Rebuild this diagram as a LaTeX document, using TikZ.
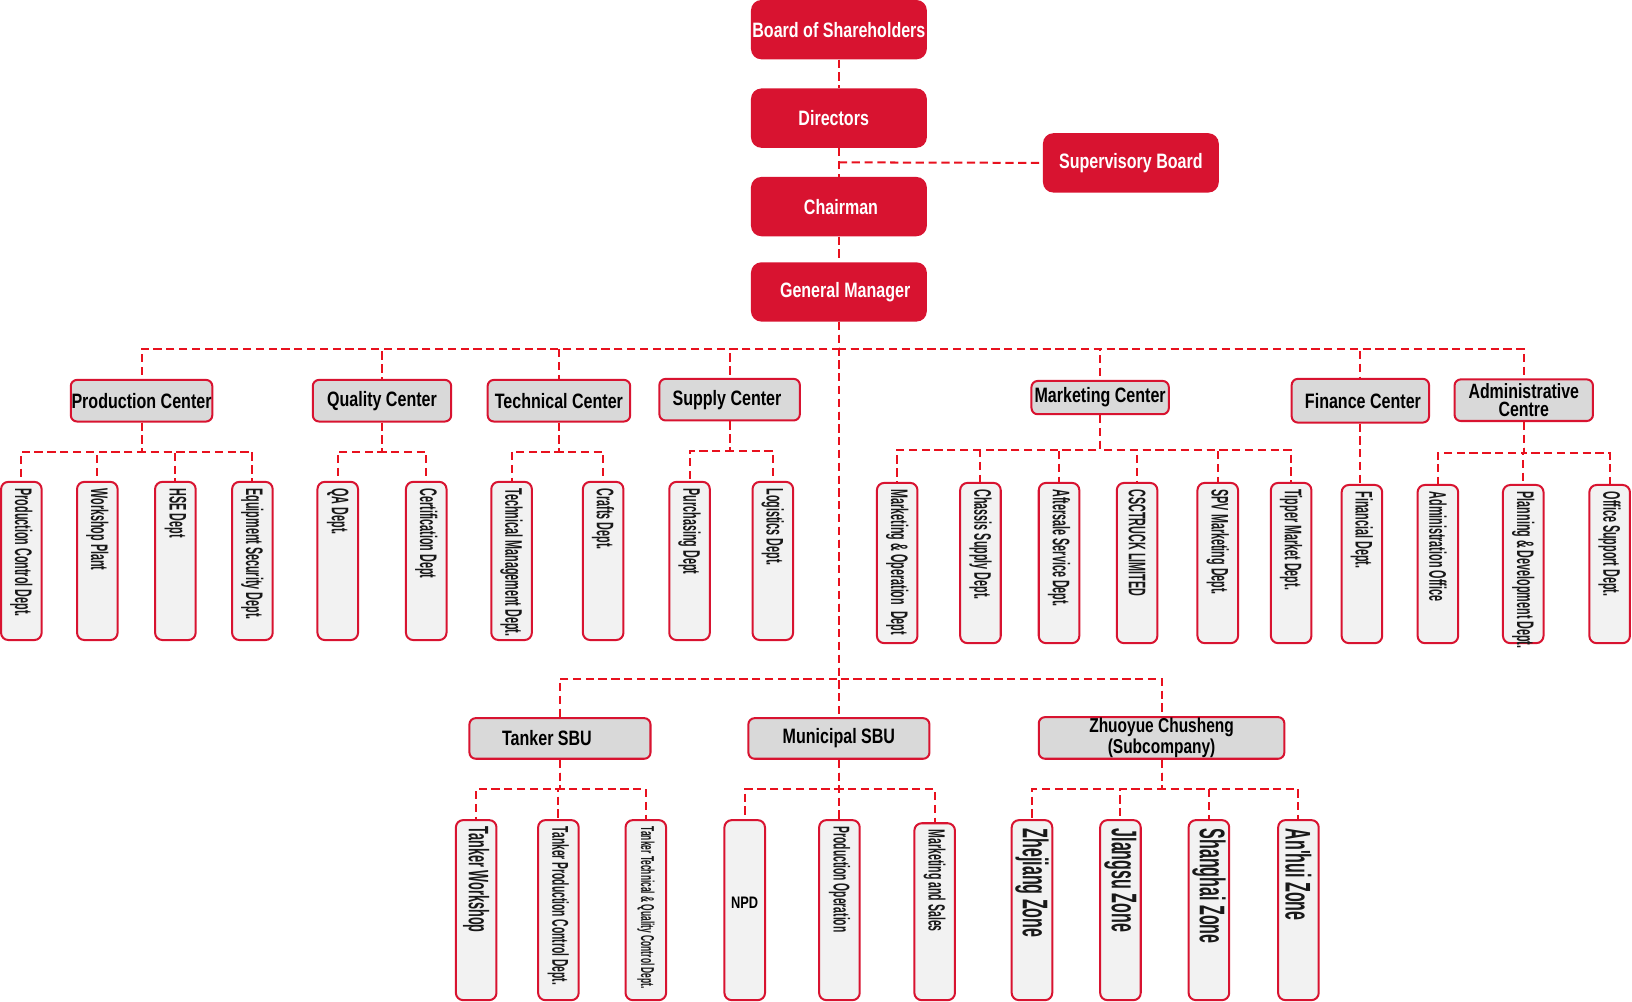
\documentclass[tikz,border=0pt]{standalone}
\usepackage{fontspec}
\setmainfont{Liberation Sans}
\newfontfamily\headfont{Liberation Sans}[FakeStretch=0.77]
\newfontfamily\deptfont{Liberation Sans}[FakeStretch=0.45]
\definecolor{boxred}{HTML}{D81330}
\definecolor{linkred}{HTML}{E8111E}
\definecolor{centergray}{HTML}{D9D9D9}
\definecolor{deptgray}{HTML}{F2F2F2}

\begin{document}
\begin{tikzpicture}[x=0.02cm, y=-0.02cm,
    link/.style={linkred, line width=1.1pt, dash pattern=on 4.5pt off 2.5pt},
    topbox/.style={fill=boxred, text=white, rounded corners=0.2cm, minimum width=3.38cm,
        minimum height=1.14cm, inner sep=0pt, font=\headfont\bfseries\fontsize{11.4}{12}\selectfont},
    centerbox/.style={draw=boxred, line width=1.1pt, fill=centergray, rounded corners=0.12cm,
        minimum height=0.8cm, inner sep=0pt, align=center,
        font=\headfont\bfseries\fontsize{11.4}{11}\selectfont},
    deptbox/.style={draw=boxred, line width=1.1pt, fill=deptgray, rounded corners=0.14cm,
        minimum width=0.78cm, minimum height=3.04cm, inner sep=0pt, anchor=north},
    deptlabel/.style={rotate=-90, anchor=west, inner sep=0pt, text=black!90,
        font=\deptfont\bfseries\fontsize{13.1}{14}\selectfont},
]
\useasboundingbox (0,0) rectangle (1568,962);

% top of the chart
\node[topbox] (board) at (806,28.5) {Board of Shareholders};
\node[topbox] (dir) at (806,113.5) {\hspace*{-0.2cm}Directors};
\node[topbox] (chair) at (806,198.5) {\hspace*{0.08cm}Chairman};
\node[topbox] (gm) at (806,280.5) {\hspace*{0.24cm}General Manager};
\node[topbox] (sup) at (1086.5,156.5) {Supervisory Board};
\draw[link] (board.south) -- (dir.north);
\draw[link] (dir.south) -- (chair.north);
\draw[link] (chair.south) -- (gm.north);
\coordinate (sv) at (806,156);
\draw[link] (sv) -- (sup.west);

% centers
\coordinate (cbar) at (0,335);
\node[centerbox, minimum width=2.72cm] (prod) at (136,385) {Production Center};
\node[centerbox, minimum width=2.66cm] (qual) at (367,385) {Quality Center};
\node[centerbox, minimum width=2.74cm] (tech) at (537,385) {Technical Center};
\node[centerbox, minimum width=2.70cm] (supp) at (701,384) {Supply Center\hspace*{0.1cm}};
\node[centerbox, minimum width=2.64cm, minimum height=0.64cm] (mark) at (1057,382) {Marketing Center};
\node[centerbox, minimum width=2.64cm, minimum height=0.84cm] (fin) at (1307,385) {\hspace*{0.1cm}Finance Center};
\node[centerbox, minimum width=2.66cm, font=\headfont\bfseries\fontsize{11.3}{10.2}\selectfont] (adm) at (1464,384.5) {Administrative\\Centre};
\foreach \c in {prod,qual,tech,supp,mark,fin,adm}
    \draw[link] (gm.south) |- (\c.north |- cbar) -- (\c.north);

% production center
\coordinate (pbar) at (0,434);
\foreach \x/\lbl [count=\i] in {20.5/Production Control Dept., 93.5/Workshop Plant,
        168.5/HSE Dept, 242.5/Equipment Security Dept.} {
    \node[deptbox] (pc\i) at (\x,462) {};
    \node[deptlabel] (pc\i-l) at ([yshift=-4pt]pc\i.north) {\lbl};
    \draw[link] (prod.south) |- (pc\i.north |- pbar) -- (pc\i.north);
}
% quality center
\foreach \x/\lbl [count=\i] in {324.5/QA Dept., 409.5/Certification Dept} {
    \node[deptbox] (qc\i) at (\x,462) {};
    \node[deptlabel] (qc\i-l) at ([yshift=-4pt]qc\i.north) {\lbl};
    \draw[link] (qual.south) |- (qc\i.north |- pbar) -- (qc\i.north);
}
% technical center
\foreach \x/\lbl [count=\i] in {491.5/Technical Management Dept., 579.5/Crafts Dept.} {
    \node[deptbox] (tc\i) at (\x,462) {};
    \node[deptlabel] (tc\i-l) at ([yshift=-4pt]tc\i.north) {\lbl};
    \draw[link] (tech.south) |- (tc\i.north |- pbar) -- (tc\i.north);
}
% supply center
\coordinate (sbar) at (0,433);
\foreach \x/\lbl [count=\i] in {662.5/Purchasing Dept, 742.5/Logistics Dept.} {
    \node[deptbox] (sc\i) at (\x,462) {};
    \node[deptlabel] (sc\i-l) at ([yshift=-4pt]sc\i.north) {\lbl};
    \draw[link] (supp.south) |- (sc\i.north |- sbar) -- (sc\i.north);
}
% marketing center
\coordinate (mbar) at (0,432);
\foreach \x/\lbl [count=\i] in {862/Marketing \& Operation\ \ Dept, 942/Chassis Supply Dept.,
        1017.5/Aftersale Service Dept., 1092.5/CSCTRUCK LIMITED, 1170/SPV Marketing Dept.,
        1240.5/Tipper Market Dept.} {
    \node[deptbox, minimum height=3.08cm] (mc\i) at (\x,463) {};
    \node[deptlabel] (mc\i-l) at ([yshift=-4pt]mc\i.north) {\lbl};
    \draw[link] (mark.south) |- (mc\i.north |- mbar) -- (mc\i.north);
}
% finance center
\node[deptbox] (fc1) at (1308.5,465) {};
\node[deptlabel] (fc1-l) at ([yshift=-4pt]fc1.north) {Financial Dept.};
\draw[link] (fin.south) -- (fin.south |- fc1.north);
% administrative centre
\coordinate (abar) at (0,435);
\foreach \x/\lbl [count=\i] in {1381.5/Administration Office, 1463.5/Planning \& Development Dept.,
        1546.5/Office Support Dept.} {
    \node[deptbox] (ac\i) at (\x,465) {};
    \node[deptlabel] (ac\i-l) at ([yshift=-4pt]ac\i.north) {\lbl};
    \draw[link] (adm.south) |- (ac\i.north |- abar) -- (ac\i.north);
}

% business units
\coordinate (ubar) at (0,652);
\node[centerbox, minimum width=3.48cm, minimum height=0.78cm] (tank) at (538,709.5) {Tanker SBU\hspace*{0.5cm}};
\node[centerbox, minimum width=3.48cm, minimum height=0.78cm] (muni) at (806,709.5) {Municipal SBU};
\node[centerbox, minimum width=4.72cm, minimum height=0.8cm,
    font=\headfont\bfseries\fontsize{11}{10.2}\selectfont] (zhuo) at (1116,709) {Zhuoyue Chusheng\\(Subcompany)};
\foreach \c in {tank,muni,zhuo}
    \draw[link] (gm.south) |- (\c.north |- ubar) -- (\c.north);

\coordinate (lbar) at (0,758);
% tanker SBU
\foreach \x/\s/\lbl [count=\i] in {457.5/15.4/Tanker Workshop, 536.5/12.5/Tanker Production Control Dept.,
        620.5/10.2/Tanker Technical \& Quality Control Dept.} {
    \node[deptbox, minimum height=3.46cm] (tu\i) at (\x,787) {};
    \node[deptlabel, font=\deptfont\bfseries\fontsize{\s}{\s}\selectfont] (tu\i-l) at ([yshift=-4pt]tu\i.north) {\lbl};
    \draw[link] (tank.south) |- (tu\i.north |- lbar) -- (tu\i.north);
}
% municipal SBU
\node[deptbox, minimum height=3.46cm] (mu1) at (715.5,787) {};
\node[font=\headfont\bfseries\fontsize{9.1}{10}\selectfont, inner sep=0pt] (mu1-l) at ([yshift=0.14cm]mu1.center) {NPD};
\node[deptbox, minimum height=3.46cm] (mu2) at (806.5,787) {};
\node[deptlabel, font=\deptfont\bfseries\fontsize{12.5}{13}\selectfont] (mu2-l) at ([yshift=-4pt]mu2.north) {Production Operation};
\node[deptbox, minimum height=3.40cm] (mu3) at (898,790) {};
\node[deptlabel, font=\deptfont\bfseries\fontsize{12.8}{13}\selectfont] (mu3-l) at ([yshift=-4pt]mu3.north) {Marketing and Sales};
\foreach \i in {1,2,3}
    \draw[link] (muni.south) |- (mu\i.north |- lbar) -- (mu\i.north);
% zhuoyue zones
\foreach \x/\lbl [count=\i] in {991.5/Zhejiang Zone, 1076.5/JIangsu Zone, 1161.5/Shanghai Zone,
        1247.5/An'hui Zone} {
    \node[deptbox, minimum height=3.46cm] (zu\i) at (\x,787) {};
    \node[deptlabel, font=\deptfont\bfseries\fontsize{19.5}{20}\selectfont] (zu\i-l) at ([yshift=-5pt]zu\i.north) {\lbl};
    \draw[link] (zhuo.south) |- (zu\i.north |- lbar) -- (zu\i.north);
}
\end{tikzpicture}
\end{document}
